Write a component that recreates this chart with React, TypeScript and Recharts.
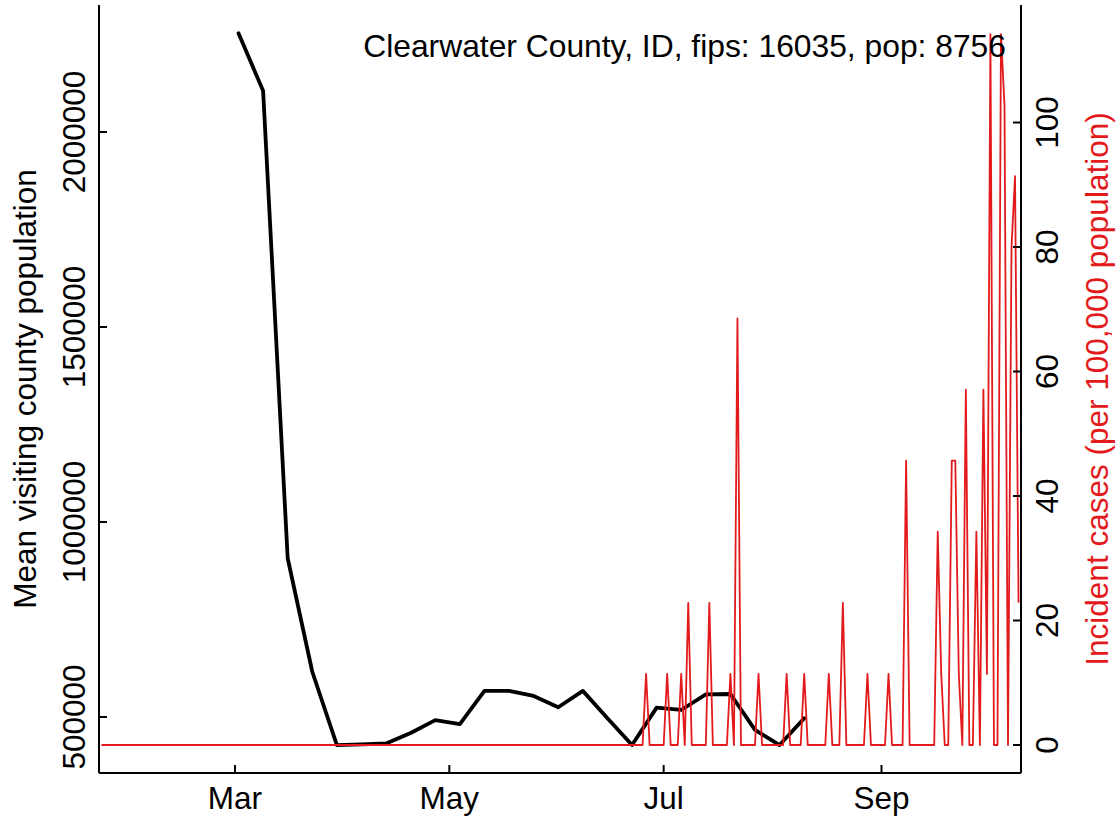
import React from "react";
import { ComposedChart, Line, XAxis, YAxis } from "recharts";

const FONT = "'Liberation Sans', Arial, Helvetica, sans-serif";
const RED = "#E31A1C";
const FS = 31.5;
const CHART_W = 1119;
const CHART_H = 822;
const LEFT_W = 99;
const RIGHT_W = 98;
const TOP_M = 5;

// x axis: day of year 2020 (Jan 1 = 0)
const tickDays = [60, 121, 182, 244];
const tickLabels = ["Mar", "May", "Jul", "Sep"];
const xDomain = [21.3, 283.7];

// left axis: mean visiting county population (weekly)
const visitDays = [61, 68, 75, 82, 89, 96, 103, 110, 117, 124, 131, 138, 145, 152, 159, 166, 173, 180, 187, 194, 201, 208, 215, 222];
const visitValues = [2253000, 2106000, 907000, 616000, 428000, 430000, 432000, 459000, 492000, 482000, 567000, 567000, 554000, 525000, 567000, 497000, 428000, 524000, 518000, 558000, 559000, 467000, 428000, 497000];
const leftTicks = [500000, 1000000, 1500000, 2000000];
const leftDomain = [356410, 2325641];

// right axis: incident cases per 100,000 (daily)
const caseFirstDay = 22;
const caseLastDay = 283;
const caseSpikeDays = [177, 183, 187, 189, 195, 201, 203, 209, 217, 222, 229, 233, 240, 246, 251, 260, 261, 264, 265, 266, 268, 271, 273, 274, 275, 278, 279, 281, 282, 283];
const caseSpikeValues = [11.42, 11.42, 11.42, 22.84, 22.84, 11.42, 68.52, 11.42, 11.42, 11.42, 11.42, 22.84, 11.42, 11.42, 45.68, 34.26, 11.42, 45.68, 45.68, 11.42, 57.1, 34.26, 57.1, 11.42, 114.21, 114.21, 102.79, 79.95, 91.37, 22.84];
const rightTicks = [0, 20, 40, 60, 80, 100];
const rightDomain = [-4.5, 118.88];

const titleText = "Clearwater County, ID, fips: 16035, pop: 8756";

const visitData = visitDays.map((d, i) => ({ day: d, visits: visitValues[i] }));
const caseData: { day: number; cases: number }[] = [];
for (let d = caseFirstDay; d <= caseLastDay; d++) {
  const k = caseSpikeDays.indexOf(d);
  caseData.push({ day: d, cases: k >= 0 ? caseSpikeValues[k] : 0 });
}

const BottomTick = (props: any) => {
  const { x, y, payload } = props;
  const i = tickDays.indexOf(payload.value);
  return (
    <g>
      <line x1={x} y1={y} x2={x} y2={y - 8} stroke="#000" strokeWidth={2} />
      <text x={x} y={y + 36} textAnchor="middle" fontSize={FS} fontFamily={FONT} fill="#000">
        {i >= 0 ? tickLabels[i] : ""}
      </text>
    </g>
  );
};

const LeftTick = (props: any) => {
  const { x, y, payload } = props;
  return (
    <g>
      <line x1={x} y1={y} x2={x + 8} y2={y} stroke="#000" strokeWidth={2} />
      <text transform={`translate(${x - 14.5},${y}) rotate(-90)`} textAnchor="middle" fontSize={FS} fontFamily={FONT} fill="#000">
        {payload.value}
      </text>
    </g>
  );
};

const RightTick = (props: any) => {
  const { x, y, payload } = props;
  return (
    <g>
      <line x1={x} y1={y} x2={x - 8} y2={y} stroke="#000" strokeWidth={2} />
      <text transform={`translate(${x + 37},${y}) rotate(-90)`} textAnchor="middle" fontSize={FS} fontFamily={FONT} fill="#000">
        {payload.value}
      </text>
    </g>
  );
};

const LeftTitle = (p: any) => {
  const vb = p.viewBox || { x: 0, y: TOP_M, width: LEFT_W, height: 768 };
  return (
    <g>
      <text transform={`translate(${vb.x + 36},${vb.y + vb.height / 2}) rotate(-90)`} textAnchor="middle" fontSize={FS} fontFamily={FONT} fill="#000">
        Mean visiting county population
      </text>
      <text x={CHART_W - RIGHT_W - 15} y={vb.y + 52} textAnchor="end" fontSize={FS + 0.3} fontFamily={FONT} fill="#000">
        {titleText}
      </text>
    </g>
  );
};

const RightTitle = (p: any) => {
  const vb = p.viewBox || { x: CHART_W - RIGHT_W, y: TOP_M, width: RIGHT_W, height: 768 };
  return (
    <text transform={`translate(${vb.x + 87},${vb.y + vb.height / 2}) rotate(-90)`} textAnchor="middle" fontSize={FS} fontFamily={FONT} fill={RED}>
      Incident cases (per 100,000 population)
    </text>
  );
};

export default function App() {
  return (
    <div style={{ position: "absolute", left: 0, top: 0, background: "#fff" }}>
      <ComposedChart width={CHART_W} height={CHART_H} margin={{ top: TOP_M, right: 0, bottom: 0, left: 0 }}>
        <XAxis
          xAxisId={0}
          type="number"
          dataKey="day"
          domain={xDomain}
          allowDataOverflow
          ticks={tickDays}
          height={49}
          tickSize={0}
          tickMargin={0}
          tickLine={false}
          tick={<BottomTick />}
          axisLine={{ stroke: "#000", strokeWidth: 2 }}
          interval={0}
        />
        <XAxis
          xAxisId="top"
          orientation="top"
          type="number"
          domain={xDomain}
          allowDataOverflow
          height={0}
          tick={false}
          tickLine={false}
          axisLine={{ stroke: "#000", strokeWidth: 2 }}
        />
        <YAxis
          yAxisId="left"
          orientation="left"
          type="number"
          domain={leftDomain}
          allowDataOverflow
          ticks={leftTicks}
          width={LEFT_W}
          tickSize={0}
          tickMargin={0}
          tickLine={false}
          tick={<LeftTick />}
          axisLine={{ stroke: "#000", strokeWidth: 2 }}
          interval={0}
          label={{ content: <LeftTitle /> }}
        />
        <YAxis
          yAxisId="right"
          orientation="right"
          type="number"
          domain={rightDomain}
          allowDataOverflow
          ticks={rightTicks}
          width={RIGHT_W}
          tickSize={0}
          tickMargin={0}
          tickLine={false}
          tick={<RightTick />}
          axisLine={{ stroke: "#000", strokeWidth: 2 }}
          interval={0}
          label={{ content: <RightTitle /> }}
        />
        <Line
          xAxisId={0}
          yAxisId="left"
          data={visitData}
          dataKey="visits"
          type="linear"
          stroke="#000"
          strokeWidth={3.8}
          strokeLinecap="round"
          strokeLinejoin="round"
          dot={false}
          activeDot={false}
          isAnimationActive={false}
        />
        <Line
          xAxisId={0}
          yAxisId="right"
          data={caseData}
          dataKey="cases"
          type="linear"
          stroke={RED}
          strokeWidth={1.8}
          strokeLinejoin="round"
          dot={false}
          activeDot={false}
          isAnimationActive={false}
        />
      </ComposedChart>
    </div>
  );
}
